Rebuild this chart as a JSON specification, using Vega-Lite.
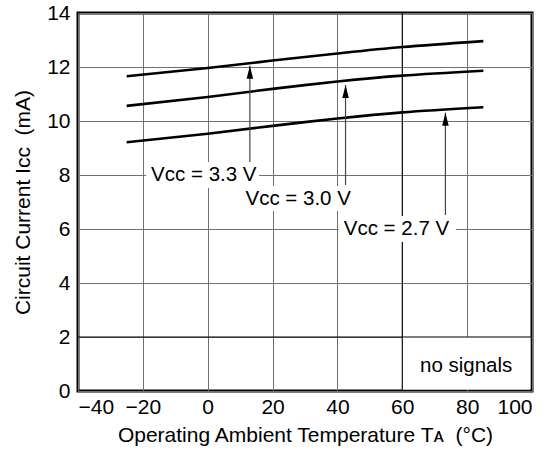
{
  "$schema": "https://vega.github.io/schema/vega-lite/v6.json",
  "width": 454,
  "height": 378,
  "autosize": {"type": "none"},
  "padding": {"left": 78, "top": 13, "right": 20, "bottom": 62},
  "background": "#ffffff",
  "config": {
    "view": {"stroke": "#000000", "strokeWidth": 3},
    "font": "Liberation Sans",
    "axis": {
      "grid": true,
      "gridColor": "#707070",
      "gridWidth": 1,
      "gridOpacity": 1,
      "domain": false,
      "ticks": false,
      "labelFont": "Liberation Sans",
      "labelFontSize": 21,
      "labelColor": "#000000",
      "titleFont": "Liberation Sans",
      "titleFontSize": 21,
      "titleFontWeight": "normal",
      "titleColor": "#000000"
    }
  },
  "datasets": {
    "curves": [
      {"vcc": "3.3", "T": -25, "I": 11.66},
      {"vcc": "3.3", "T": 0, "I": 11.96},
      {"vcc": "3.3", "T": 20, "I": 12.24},
      {"vcc": "3.3", "T": 40, "I": 12.5},
      {"vcc": "3.3", "T": 60, "I": 12.74},
      {"vcc": "3.3", "T": 85, "I": 12.96},
      {"vcc": "3.0", "T": -25, "I": 10.56},
      {"vcc": "3.0", "T": 0, "I": 10.89},
      {"vcc": "3.0", "T": 20, "I": 11.19},
      {"vcc": "3.0", "T": 40, "I": 11.46},
      {"vcc": "3.0", "T": 60, "I": 11.68},
      {"vcc": "3.0", "T": 85, "I": 11.86},
      {"vcc": "2.7", "T": -25, "I": 9.21},
      {"vcc": "2.7", "T": 0, "I": 9.53},
      {"vcc": "2.7", "T": 20, "I": 9.82},
      {"vcc": "2.7", "T": 40, "I": 10.09},
      {"vcc": "2.7", "T": 60, "I": 10.32},
      {"vcc": "2.7", "T": 85, "I": 10.51}
    ],
    "noSignalBox": [
      {"T": 60, "T2": 99.5, "I": 0.06, "I2": 2}
    ],
    "darkRules": [
      {"T": -40, "T2": 100, "I": 2, "I2": 2},
      {"T": 60, "T2": 60, "I": 0, "I2": 14}
    ],
    "labelBoxes": [
      {"T": -19.0, "T2": 15.8, "I": 7.52, "I2": 8.48},
      {"T": 10.8, "T2": 45.1, "I": 6.67, "I2": 7.59},
      {"T": 40.4, "T2": 76.5, "I": 5.52, "I2": 6.48}
    ],
    "arrows": [
      {"vcc": "3.3", "T": 13, "I": 8.48, "I2": 12.05},
      {"vcc": "3.0", "T": 42.5, "I": 7.63, "I2": 11.33},
      {"vcc": "2.7", "T": 73.3, "I": 6.52, "I2": 10.31}
    ],
    "heads": [
      {"vcc": "3.3", "T": 13, "I": 12.05},
      {"vcc": "3.0", "T": 42.5, "I": 11.33},
      {"vcc": "2.7", "T": 73.3, "I": 10.31}
    ],
    "labels": [
      {"T": -1.2, "I": 8.0, "txt": "Vᴄᴄ = 3.3 V"},
      {"T": 27.9, "I": 7.1, "txt": "Vᴄᴄ = 3.0 V"},
      {"T": 58.2, "I": 5.99, "txt": "Vᴄᴄ = 2.7 V"},
      {"T": 79.7, "I": 0.94, "txt": "no signals"}
    ]
  },
  "encoding": {
    "x": {
      "field": "T",
      "type": "quantitative",
      "scale": {"domain": [-40, 100], "nice": false, "zero": false},
      "axis": {"values": [-40, -20, 0, 20, 40, 60, 80, 100], "labelPadding": 5, "titlePadding": 7, "title": "Operating Ambient Temperature Tᴀ\u00a0\u00a0(°C)"},
      "title": "Operating Ambient Temperature Tᴀ\u00a0\u00a0(°C)"
    },
    "y": {
      "field": "I",
      "type": "quantitative",
      "scale": {"domain": [0, 14], "nice": false, "zero": false},
      "axis": {"values": [0, 2, 4, 6, 8, 10, 12, 14], "labelPadding": 8, "titlePadding": 13, "title": "Circuit Current Iᴄᴄ\u00a0\u00a0(mA)"},
      "title": "Circuit Current Iᴄᴄ\u00a0\u00a0(mA)"
    }
  },
  "layer": [
    {
      "data": {"name": "noSignalBox"},
      "mark": {"type": "rect", "fill": "#ffffff", "stroke": null},
      "encoding": {"x2": {"field": "T2"}, "y2": {"field": "I2"}}
    },
    {
      "data": {"name": "darkRules"},
      "mark": {"type": "rule", "color": "#000000", "strokeWidth": 1.1},
      "encoding": {"x2": {"field": "T2"}, "y2": {"field": "I2"}}
    },
    {
      "data": {"name": "labelBoxes"},
      "mark": {"type": "rect", "fill": "#ffffff", "stroke": null},
      "encoding": {"x2": {"field": "T2"}, "y2": {"field": "I2"}}
    },
    {
      "data": {"name": "curves"},
      "mark": {"type": "line", "color": "#000000", "strokeWidth": 2.6, "interpolate": "natural"},
      "encoding": {"detail": {"field": "vcc"}}
    },
    {
      "data": {"name": "arrows"},
      "mark": {"type": "rule", "color": "#444444", "strokeWidth": 1.2},
      "encoding": {"y2": {"field": "I2"}}
    },
    {
      "data": {"name": "heads"},
      "mark": {"type": "point", "shape": "M0,0L0.5,2L-0.5,2Z", "size": 169, "filled": true, "color": "#000000", "opacity": 1},
      "encoding": {}
    },
    {
      "data": {"name": "labels"},
      "mark": {"type": "text", "font": "Liberation Sans", "fontSize": 20.5, "color": "#000000", "align": "center", "baseline": "middle"},
      "encoding": {"text": {"field": "txt"}}
    }
  ]
}
